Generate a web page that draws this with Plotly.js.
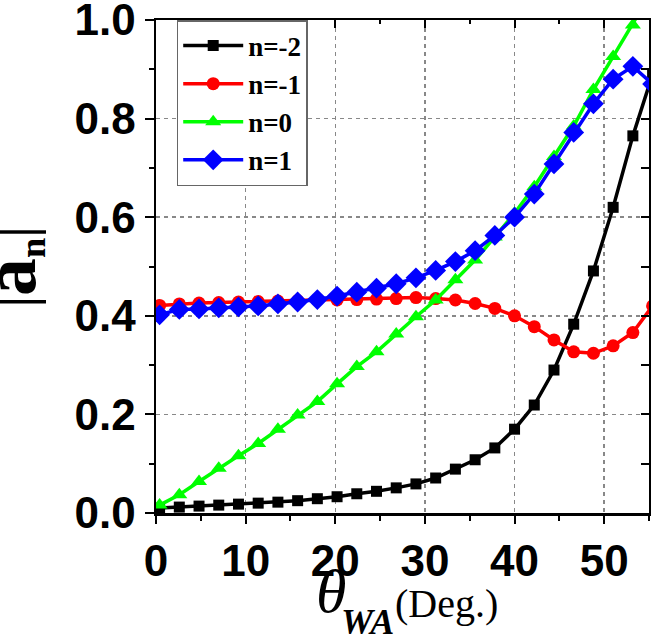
<!DOCTYPE html>
<html>
<head>
<meta charset="utf-8">
<script src="https://cdn.plot.ly/plotly-3.0.1.min.js"></script>
<style>html,body{margin:0;padding:0;background:#fff;}#chart{width:651px;height:638px;}</style>
</head>
<body>
<div id="chart"></div>
<script>
// Incidence angle (deg)
const theta = [0.4, 2.6, 4.8, 7.0, 9.2, 11.4, 13.6, 15.8, 18.0, 20.2, 22.4, 24.6, 26.8, 29.0, 31.2, 33.4, 35.6, 37.8, 40.0, 42.2, 44.4, 46.6, 48.8, 51.0, 53.2, 55.4];
const nMinus2 = [0.010, 0.012, 0.014, 0.016, 0.018, 0.020, 0.022, 0.025, 0.029, 0.033, 0.039, 0.044, 0.051, 0.059, 0.071, 0.089, 0.108, 0.132, 0.170, 0.219, 0.290, 0.383, 0.491, 0.620, 0.765, 0.890];
const nMinus1 = [0.421, 0.424, 0.426, 0.427, 0.428, 0.429, 0.430, 0.431, 0.432, 0.432, 0.433, 0.434, 0.435, 0.437, 0.435, 0.432, 0.425, 0.415, 0.400, 0.378, 0.351, 0.327, 0.324, 0.339, 0.366, 0.420];
const nZero = [0.016, 0.037, 0.064, 0.091, 0.116, 0.141, 0.170, 0.199, 0.226, 0.262, 0.297, 0.327, 0.363, 0.398, 0.432, 0.473, 0.513, 0.560, 0.608, 0.662, 0.723, 0.785, 0.859, 0.926, 0.990, 1.060];
const nPlus1 = [0.402, 0.413, 0.414, 0.416, 0.418, 0.420, 0.424, 0.428, 0.433, 0.440, 0.448, 0.456, 0.465, 0.477, 0.492, 0.510, 0.532, 0.563, 0.600, 0.647, 0.708, 0.772, 0.830, 0.880, 0.906, 0.870];
const seriesNames = ['n=-2', 'n=-1', 'n=0', 'n=1'];
const seriesColors = ['#000000', '#ff0000', '#00ff00', '#0000ff'];
const seriesSymbols = ['square', 'circle', 'triangle-up', 'diamond'];
const seriesSizes = [11, 13, 14, 16];
const seriesData = [nMinus2, nMinus1, nZero, nPlus1];
// axis title pieces
const xTitleParts = ['<i>θ</i>', '<b><i>WA</i></b>', '(Deg.)'];
const yTitle = '<b>|<span style="font-size:76px">a</span><sub>n</sub>|</b>';

const traces = seriesData.map((ys, i) => ({
  x: theta, y: ys, name: seriesNames[i], type: 'scatter', mode: 'lines+markers',
  line: {color: seriesColors[i], width: 3.5},
  marker: {color: seriesColors[i], symbol: seriesSymbols[i], size: seriesSizes[i]}
}));
traces.push({x: [0], y: [0], xaxis: 'x2', yaxis: 'y2', mode: 'markers', marker: {opacity: 0}, showlegend: false, hoverinfo: 'skip'});

const serif = '"Liberation Serif", "Times New Roman", serif';
const tickFont = {family: '"Liberation Sans", Arial, sans-serif', size: 44, color: '#000', weight: 'bold'};
const layout = {
  width: 651, height: 638,
  margin: {l: 156, r: 2, t: 20, b: 125},
  paper_bgcolor: '#fff', plot_bgcolor: '#fff',
  showlegend: true,
  legend: {x: 0.042, y: 1, xanchor: 'left', yanchor: 'top', bgcolor: '#fff', bordercolor: '#666', borderwidth: 1.5,
    font: {family: serif, size: 27, color: '#000', weight: 'bold'}, itemwidth: 60, tracegroupgap: 0},
  xaxis: {
    range: [0, 55], dtick: 10, tick0: 0, ticks: 'outside', ticklen: 8, tickwidth: 2, tickcolor: '#000',
    showline: true, linecolor: '#000', linewidth: 2.5, zeroline: false, ticklabeloverflow: 'allow',
    showgrid: true, gridcolor: '#888888', griddash: '4px,4px', gridwidth: 1.5,
    minor: {dtick: 5, ticks: 'outside', ticklen: 5, tickwidth: 2, tickcolor: '#000', showgrid: false},
    tickfont: tickFont
  },
  yaxis: {
    range: [0, 1], dtick: 0.2, tick0: 0, tickformat: '.1f', ticks: 'outside', ticklen: 9, tickwidth: 2, tickcolor: '#000',
    showline: true, linecolor: '#000', linewidth: 2.5, zeroline: false, ticklabeloverflow: 'allow',
    showgrid: true, gridcolor: '#888888', griddash: '4px,4px', gridwidth: 1.5,
    minor: {dtick: 0.1, ticks: 'outside', ticklen: 5, tickwidth: 2, tickcolor: '#000', showgrid: false},
    tickfont: tickFont
  },
  xaxis2: {overlaying: 'x', anchor: 'y', side: 'top', range: [0, 55], dtick: 10, tick0: 0, ticks: 'inside', ticklen: 8, tickwidth: 2, tickcolor: '#000',
    showticklabels: false, showline: true, linecolor: '#000', linewidth: 2.5, showgrid: false, zeroline: false,
    minor: {dtick: 5, ticks: 'inside', ticklen: 4, tickwidth: 2, tickcolor: '#000', showgrid: false}},
  yaxis2: {overlaying: 'y', anchor: 'x', side: 'right', range: [0, 1], dtick: 0.2, tick0: 0, ticks: 'inside', ticklen: 8, tickwidth: 2, tickcolor: '#000',
    showticklabels: false, showline: true, linecolor: '#000', linewidth: 2.5, showgrid: false, zeroline: false,
    minor: {dtick: 0.1, ticks: 'inside', ticklen: 8, tickwidth: 2, tickcolor: '#000', showgrid: false}},
  annotations: [
    {text: xTitleParts[0], xref: 'paper', yref: 'paper', x: 0.355, y: -0.158, xanchor: 'center', yanchor: 'middle', showarrow: false,
      font: {family: serif, size: 62, color: '#000'}},
    {text: xTitleParts[1], xref: 'paper', yref: 'paper', x: 0.429, y: -0.222, xanchor: 'center', yanchor: 'middle', showarrow: false,
      font: {family: serif, size: 36, color: '#000'}},
    {text: xTitleParts[2], xref: 'paper', yref: 'paper', x: 0.589, y: -0.183, xanchor: 'center', yanchor: 'middle', showarrow: false,
      font: {family: serif, size: 40, color: '#000'}},
    {text: yTitle, xref: 'paper', yref: 'paper', x: -0.295, y: 0.499, xanchor: 'center', yanchor: 'middle', showarrow: false, textangle: -90,
      font: {family: serif, size: 52, color: '#000'}}
  ]
};
Plotly.newPlot('chart', traces, layout, {displayModeBar: false, staticPlot: true});
</script>
</body>
</html>
